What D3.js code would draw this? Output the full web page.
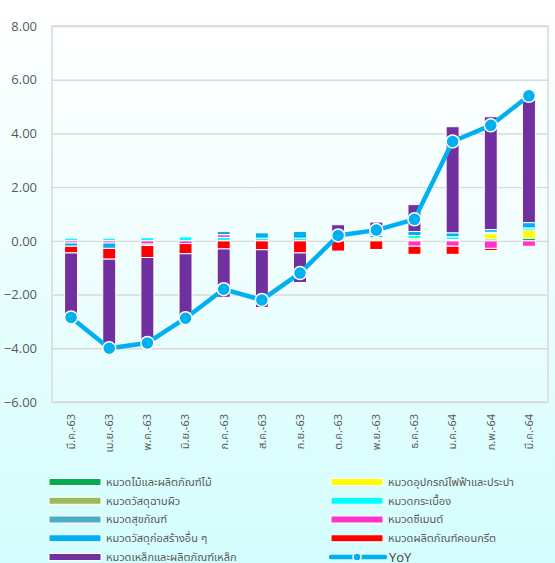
<!DOCTYPE html>
<html>
<head>
    <meta charset="utf-8">
    <script src="https://d3js.org/d3.v7.min.js" charset="utf-8"></script>
    <style>
        body { margin: 0; }
        svg { display: block; font-family: "Noto Sans Thai", "Noto Sans", "DejaVu Sans", sans-serif; }
    </style>
</head>
<body>
<script>
    // months on the x axis
    const months = ["มี.ค.-63", "เม.ย.-63", "พ.ค.-63", "มิ.ย.-63", "ก.ค.-63", "ส.ค.-63", "ก.ย.-63",
                    "ต.ค.-63", "พ.ย.-63", "ธ.ค.-63", "ม.ค.-64", "ก.พ.-64", "มี.ค.-64"];

    // contributions per group (stack order = order in the legend, row by row)
    const wood       = [0, 0, 0, 0, 0, 0, 0, 0, 0, 0, 0, 0.07, 0.1];
    const electrical = [0, 0, 0, 0, 0, 0, 0, 0, 0.07, 0.08, 0.05, 0.2, 0.3];
    const plastering = [0, 0, 0, 0, 0, 0, 0, 0, 0, 0, 0, 0, 0];
    const tile       = [0.1, 0.1, 0.12, 0.15, 0.13, 0.1, 0.1, 0.05, 0.05, 0.12, 0.1, 0.05, 0.08];
    const sanitary   = [0, 0, 0, 0, 0, 0, 0, 0, 0, 0, 0, 0, 0];
    const cement     = [-0.08, -0.08, -0.12, -0.1, 0.1, 0, 0, 0, 0, -0.2, -0.2, -0.28, -0.2];
    const other      = [-0.12, -0.2, -0.05, 0, 0.12, 0.2, 0.25, 0.1, 0.08, 0.15, 0.15, 0.1, 0.2];
    const concrete   = [-0.25, -0.4, -0.45, -0.38, -0.3, -0.33, -0.45, -0.38, -0.32, -0.3, -0.3, -0.08, 0];
    const steel      = [-2.45, -3.3, -3.2, -2.4, -1.8, -2.15, -1.1, 0.45, 0.5, 1.0, 3.95, 4.2, 4.9];
    const yoy        = [-2.85, -4.0, -3.8, -2.88, -1.8, -2.2, -1.2, 0.2, 0.4, 0.8, 3.7, 4.3, 5.4];

    const yTicks = [-6, -4, -2, 0, 2, 4, 6, 8];

    const series = [
        {key: "wood", name: "หมวดไม้และผลิตภัณฑ์ไม้", color: "#00b050", values: wood},
        {key: "electrical", name: "หมวดอุปกรณ์ไฟฟ้าและประปา", color: "#ffff00", values: electrical},
        {key: "plastering", name: "หมวดวัสดุฉาบผิว", color: "#9bbb59", values: plastering},
        {key: "tile", name: "หมวดกระเบื้อง", color: "#00ffff", values: tile},
        {key: "sanitary", name: "หมวดสุขภัณฑ์", color: "#4bacc6", values: sanitary},
        {key: "cement", name: "หมวดซีเมนต์", color: "#ff33cc", values: cement},
        {key: "other", name: "หมวดวัสดุก่อสร้างอื่น ๆ", color: "#00b0f0", values: other},
        {key: "concrete", name: "หมวดผลิตภัณฑ์คอนกรีต", color: "#ff0000", values: concrete},
        {key: "steel", name: "หมวดเหล็กและผลิตภัณฑ์เหล็ก", color: "#7030a0", values: steel}
    ];

    const W = 555, H = 563;
    const plot = {left: 52, right: 548, top: 26, bottom: 402};

    const table = months.map((m, i) => {
        const row = {month: m};
        series.forEach(s => row[s.key] = s.values[i]);
        return row;
    });

    const stack = d3.stack()
        .keys(series.map(s => s.key))
        .offset(d3.stackOffsetDiverging);
    const layers = stack(table);

    const x = d3.scaleBand().domain(months).range([plot.left, plot.right])
        .paddingInner(0.66).paddingOuter(0.33);
    const y = d3.scaleLinear().domain([-6, 8]).range([plot.bottom, plot.top]);

    const svg = d3.select("body").append("svg").attr("width", W).attr("height", H);

    const defs = svg.append("defs");
    const bg = defs.append("linearGradient").attr("id", "bg").attr("x1", 0).attr("y1", 0).attr("x2", 0).attr("y2", 1);
    bg.append("stop").attr("offset", "0%").attr("stop-color", "#ffffff");
    bg.append("stop").attr("offset", "100%").attr("stop-color", "#d4fdfd");
    const pg = defs.append("linearGradient").attr("id", "pg").attr("x1", 0).attr("y1", 0).attr("x2", 0).attr("y2", 1);
    pg.append("stop").attr("offset", "0%").attr("stop-color", "#ffffff");
    pg.append("stop").attr("offset", "100%").attr("stop-color", "#e6fdfd");

    svg.append("rect").attr("width", W).attr("height", H).attr("fill", "url(#bg)");
    svg.append("rect")
        .attr("x", plot.left).attr("y", plot.top)
        .attr("width", plot.right - plot.left).attr("height", plot.bottom - plot.top)
        .attr("fill", "url(#pg)");

    // y axis with gridlines
    const yAxis = svg.append("g")
        .attr("transform", `translate(${plot.left},0)`)
        .call(d3.axisLeft(y).tickValues(yTicks).tickFormat(d3.format(".2f"))
            .tickSize(-(plot.right - plot.left)).tickPadding(15));
    yAxis.select(".domain").remove();
    yAxis.selectAll("line").attr("stroke", "#d9d9d9").attr("stroke-width", 1.4);
    yAxis.selectAll("text").attr("fill", "#595959").style("font-size", "13px")
        .style("font-family", "'Open Sans', 'Noto Sans', sans-serif");

    svg.append("rect")
        .attr("x", plot.left).attr("y", plot.top)
        .attr("width", plot.right - plot.left).attr("height", plot.bottom - plot.top)
        .attr("fill", "none").attr("stroke", "#d9d9d9").attr("stroke-width", 1.5);

    // stacked bars
    const colorOf = {};
    series.forEach(s => colorOf[s.key] = s.color);
    svg.append("g").selectAll("g")
        .data(layers).join("g")
        .attr("fill", d => colorOf[d.key])
        .selectAll("rect")
        .data(d => d.filter(p => p[1] !== p[0]))
        .join("rect")
        .attr("x", d => x(d.data.month))
        .attr("width", x.bandwidth())
        .attr("y", d => y(Math.max(d[0], d[1])))
        .attr("height", d => Math.abs(y(d[0]) - y(d[1])))
        .attr("stroke", "#ffffff").attr("stroke-width", 1);

    // YoY line
    const cx = m => x(m) + x.bandwidth() / 2;
    svg.append("path")
        .datum(yoy)
        .attr("fill", "none").attr("stroke", "#00b0f0").attr("stroke-width", 4.5)
        .attr("stroke-linejoin", "round")
        .attr("d", d3.line().x((d, i) => cx(months[i])).y(d => y(d)));
    svg.append("g").selectAll("circle")
        .data(yoy).join("circle")
        .attr("cx", (d, i) => cx(months[i])).attr("cy", d => y(d))
        .attr("r", 6.5).attr("fill", "#00b0f0")
        .attr("stroke", "#ffffff").attr("stroke-width", 1.5);

    // x labels
    svg.append("g").selectAll("text")
        .data(months).join("text")
        .attr("transform", d => `translate(${cx(d)},414) rotate(-90)`)
        .attr("text-anchor", "end").attr("dy", "0.35em")
        .attr("fill", "#595959").style("font-size", "11px")
        .text(d => d);

    // legend: two columns, filled row by row
    const legendItems = series.map(s => ({name: s.name, color: s.color, line: false}))
        .concat([{name: "YoY", color: "#00b0f0", line: true}]);
    const colX = [49, 331];
    const rowY = d3.scalePoint().domain(d3.range(5)).range([482, 557]);
    const lg = svg.append("g").selectAll("g")
        .data(legendItems).join("g")
        .attr("transform", (d, i) => `translate(${colX[i % 2]},${rowY(Math.floor(i / 2))})`);
    lg.filter(d => !d.line).append("rect")
        .attr("x", 0).attr("y", -3.5).attr("width", 52).attr("height", 7)
        .attr("fill", d => d.color).attr("stroke", "#ffffff").attr("stroke-width", 1);
    const ll = lg.filter(d => d.line);
    ll.append("line").attr("x1", 0).attr("x2", 54).attr("y1", 0).attr("y2", 0)
        .attr("stroke", d => d.color).attr("stroke-width", 4.5).attr("stroke-linecap", "round");
    ll.append("circle").attr("cx", 26).attr("cy", 0).attr("r", 4)
        .attr("fill", d => d.color).attr("stroke", "#ffffff").attr("stroke-width", 1.5);
    lg.append("text")
        .attr("x", d => d.line ? 58 : 57).attr("dy", "0.35em")
        .attr("fill", d => d.line ? "#404040" : "#595959")
        .style("font-size", d => d.line ? "13px" : "11px")
        .style("font-family", d => d.line ? "'Open Sans', sans-serif" : null)
        .text(d => d.name);
</script>
</body>
</html>
